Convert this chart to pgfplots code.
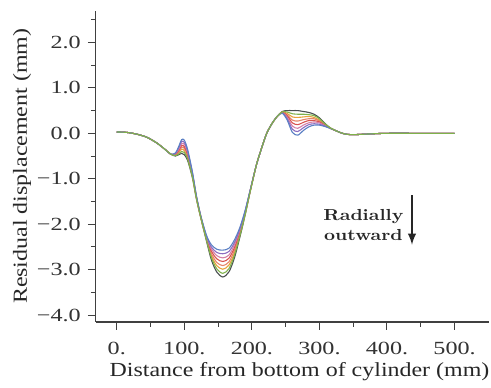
\documentclass[border=0pt]{standalone}
\usepackage{pgfplots}
\usepackage{pgfplotstable}
\usepackage{fontspec}
\setmainfont{Liberation Serif}
\newfontfamily\tickfont{Liberation Serif}[FakeStretch=1.3]
\newfontfamily\labfont{Liberation Serif}[FakeStretch=1.2]
\newfontfamily\annfont{lmroman10-bold}[Extension=.otf, FakeStretch=1.2]
\pgfplotsset{compat=1.18}
\definecolor{c0}{HTML}{5B80C4}
\definecolor{c1}{HTML}{8C6CC0}
\definecolor{c2}{HTML}{D47FA8}
\definecolor{c3}{HTML}{D9534F}
\definecolor{c4}{HTML}{E6856A}
\definecolor{c5}{HTML}{E9A23B}
\definecolor{c6}{HTML}{7FB24A}
\definecolor{c7}{HTML}{4A5050}
\pgfplotstableread{
x    a     b     c     d     e     f     g     h
0    0.03  0.03  0.03  0.03  0.03  0.03  0.03  0.03
15   0.02  0.02  0.02  0.02  0.02  0.02  0.02  0.02
30  -0.02 -0.02 -0.02 -0.02 -0.02 -0.02 -0.02 -0.02
45  -0.09 -0.09 -0.09 -0.09 -0.09 -0.09 -0.09 -0.09
60  -0.22 -0.22 -0.22 -0.22 -0.22 -0.22 -0.22 -0.22
72  -0.36 -0.36 -0.36 -0.36 -0.36 -0.36 -0.36 -0.36
80  -0.46 -0.46 -0.46 -0.46 -0.46 -0.46 -0.46 -0.46
87  -0.43 -0.44 -0.45 -0.46 -0.47 -0.48 -0.49 -0.50
92  -0.28 -0.31 -0.34 -0.37 -0.40 -0.42 -0.45 -0.47
96  -0.14 -0.18 -0.23 -0.27 -0.31 -0.35 -0.40 -0.44
100 -0.15 -0.20 -0.24 -0.29 -0.33 -0.38 -0.42 -0.47
105 -0.36 -0.40 -0.43 -0.47 -0.50 -0.54 -0.57 -0.60
112 -0.85 -0.87 -0.89 -0.91 -0.92 -0.94 -0.96 -0.98
118 -1.38 -1.39 -1.40 -1.41 -1.42 -1.43 -1.44 -1.45
125 -1.85 -1.86 -1.86 -1.87 -1.88 -1.89 -1.89 -1.90
133 -2.25 -2.27 -2.29 -2.31 -2.32 -2.34 -2.36 -2.38
140 -2.45 -2.50 -2.54 -2.59 -2.64 -2.69 -2.73 -2.78
148 -2.55 -2.62 -2.69 -2.76 -2.84 -2.91 -2.98 -3.05
157 -2.57 -2.65 -2.74 -2.82 -2.91 -2.99 -3.08 -3.16
166 -2.53 -2.60 -2.68 -2.75 -2.83 -2.90 -2.98 -3.05
174 -2.35 -2.41 -2.46 -2.52 -2.58 -2.64 -2.69 -2.75
182 -2.08 -2.11 -2.14 -2.17 -2.21 -2.24 -2.27 -2.30
190 -1.70 -1.71 -1.73 -1.74 -1.76 -1.77 -1.79 -1.80
198 -1.22 -1.22 -1.23 -1.23 -1.24 -1.24 -1.25 -1.25
207 -0.68 -0.68 -0.68 -0.68 -0.68 -0.68 -0.68 -0.68
215 -0.30 -0.30 -0.30 -0.30 -0.30 -0.30 -0.30 -0.30
222  0.00  0.00  0.00  0.00  0.00  0.00  0.00  0.00
230  0.22  0.22  0.22  0.22  0.22  0.22  0.22  0.22
238  0.38  0.38  0.38  0.38  0.38  0.38  0.38  0.38
245  0.44  0.45  0.45  0.46  0.46  0.47  0.47  0.48
252  0.30  0.33  0.36  0.39  0.41  0.44  0.47  0.50
260  0.02  0.09  0.16  0.23  0.29  0.36  0.43  0.50
268 -0.04  0.04  0.11  0.19  0.27  0.35  0.42  0.50
276  0.06  0.12  0.18  0.24  0.30  0.36  0.42  0.48
284  0.14  0.19  0.23  0.28  0.32  0.37  0.41  0.46
292  0.18  0.21  0.25  0.28  0.32  0.35  0.39  0.42
300  0.18  0.20  0.23  0.25  0.27  0.29  0.32  0.34
308  0.15  0.16  0.17  0.18  0.19  0.20  0.21  0.22
316  0.11  0.11  0.11  0.11  0.11  0.12  0.12  0.12
324  0.06  0.06  0.06  0.06  0.06  0.06  0.06  0.06
332  0.01  0.01  0.01  0.01  0.01  0.01  0.01  0.01
340 -0.02 -0.02 -0.02 -0.02 -0.02 -0.02 -0.02 -0.02
350 -0.03 -0.03 -0.03 -0.03 -0.03 -0.03 -0.03 -0.03
365 -0.02 -0.02 -0.02 -0.02 -0.02 -0.02 -0.02 -0.02
380 -0.01 -0.01 -0.01 -0.01 -0.01 -0.01 -0.01 -0.01
400  0.00  0.00  0.00  0.00  0.00  0.00  0.00  0.00
450  0.00  0.00  0.00  0.00  0.00  0.00  0.00  0.00
500  0.00  0.00  0.00  0.00  0.00  0.00  0.00  0.00
}\disp
\begin{document}
\begin{tikzpicture}
\begin{axis}[
  scale only axis,
  width=197pt, height=156pt,
  xmin=-31, xmax=551, ymin=-4.15, ymax=2.7,
  axis lines=left,
  axis line style={-, black!75, line width=0.6pt},
  tick align=outside,
  tick style={black!75, line width=0.5pt},
  major tick length=4pt,
  minor tick length=2.5pt,
  xtick={0,100,200,300,400,500},
  xticklabels={0.,100.,200.,300.,400.,500.},
  minor xtick={50,150,250,350,450},
  ytick={-4,-3,-2,-1,0,1,2},
  yticklabels={−4.0,−3.0,−2.0,−1.0,0.0,1.0,2.0},
  minor ytick={-3.5,-2.5,-1.5,-0.5,0.5,1.5,2.5},
  tick label style={font=\tickfont\fontsize{9.3}{11}\selectfont, text=black!80},
  xticklabel style={yshift=-2.5pt},
  xlabel={Distance from bottom of cylinder (mm)},
  ylabel={Residual displacement (mm)},
  label style={font=\labfont\fontsize{10}{12}\selectfont, text=black!85},
  xlabel style={at={([yshift=-25pt]axis description cs:0.518,0)}, anchor=center},
  ylabel style={at={([xshift=-37pt]axis description cs:0,0.5)}, anchor=center},
  clip=false,
]
\coordinate (SW) at (rel axis cs:0,0);
\addplot[c7, line width=0.55pt, smooth] table[x=x, y=h] {\disp};
\addplot[c5, line width=0.55pt, smooth] table[x=x, y=f] {\disp};
\addplot[c4, line width=0.55pt, smooth] table[x=x, y=e] {\disp};
\addplot[c3, line width=0.55pt, smooth] table[x=x, y=d] {\disp};
\addplot[c2, line width=0.55pt, smooth] table[x=x, y=c] {\disp};
\addplot[c1, line width=0.55pt, smooth] table[x=x, y=b] {\disp};
\addplot[c0, line width=0.55pt, smooth] table[x=x, y=a] {\disp};
\addplot[c6, line width=0.55pt, smooth] table[x=x, y=g] {\disp};
\node[align=center, font={\annfont\fontsize{8}{10}\selectfont}, text=black!85] at (axis cs:365,-2.02) {Radially\\outward};
\draw[-latex, line width=0.9pt, black!85] (axis cs:437,-1.36) -- (axis cs:437,-2.45);
\end{axis}
\pgfresetboundingbox
\path[use as bounding box] ([shift={(-48pt,-32.6pt)}]SW) rectangle ++(246pt,193.9pt);
\end{tikzpicture}
\end{document}
